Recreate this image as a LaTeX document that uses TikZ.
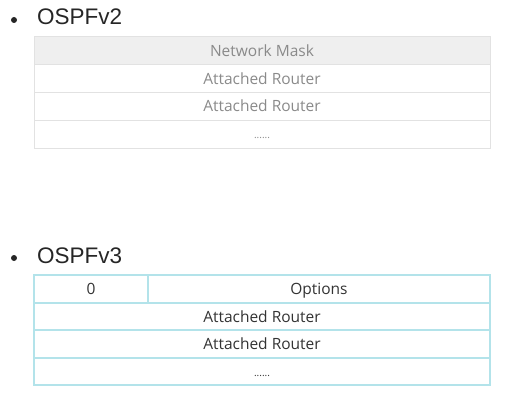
\documentclass[tikz,border=0pt]{standalone}
\usepackage{fontspec}
\setmainfont{Open Sans}
\newfontfamily\titlefont{Liberation Sans}
\definecolor{gbord}{HTML}{E2E2E2}
\definecolor{gfill}{HTML}{EFEFEF}
\definecolor{gtext}{HTML}{8A8A8A}
\definecolor{cbord}{HTML}{B3E3EA}
\definecolor{ctext}{HTML}{333333}
\begin{document}
\begin{tikzpicture}[x=1pt,y=-1pt,
  title/.style={anchor=base west,inner sep=0pt,font=\titlefont\fontsize{22.5}{26}\selectfont,text=black!85},
  bulletdot/.style={circle,fill=black!85,inner sep=0pt,minimum size=6pt},
  vtwo/.style={draw=gbord,line width=1pt},
  vthree/.style={draw=cbord,line width=1.1pt},
  gcell/.style={anchor=base,font=\fontsize{15.5}{17}\selectfont,text=gtext,inner sep=0pt},
  ccell/.style={anchor=base,font=\fontsize{15.5}{17}\selectfont,text=ctext,inner sep=0pt},
  dots/.style={anchor=base,font=\fontsize{10}{11}\selectfont,inner sep=0pt}]
\useasboundingbox (0,0) rectangle (508,417);
% OSPFv2
\node[bulletdot] (b1) at (14,20) {};
\node[title] (t1) at (37,25) {OSPFv2};
\fill[gfill] (34,37) rectangle (490,65);
\draw[vtwo] (34,37) rectangle (490,148);
\draw[vtwo] (34,65) -- (490,65);
\draw[vtwo] (34,93) -- (490,93);
\draw[vtwo] (34,120) -- (490,120);
\node[gcell] (nm) at (262,56.5) {Network Mask};
\node[gcell] (ar1) at (262,84.5) {Attached Router};
\node[gcell] (ar2) at (262,112) {Attached Router};
\node[dots,text=gtext] (d1) at (262,138) {......};
% OSPFv3
\node[bulletdot] (b2) at (14,258) {};
\node[title] (t2) at (37,263) {OSPFv3};
\draw[vthree] (34,275) rectangle (490,385);
\draw[vthree] (34,303) -- (490,303);
\draw[vthree] (34,330) -- (490,330);
\draw[vthree] (34,358) -- (490,358);
\draw[vthree] (148,275) -- (148,303);
\node[ccell] (z) at (91,294.5) {0};
\node[ccell] (op) at (319,294.5) {Options};
\node[ccell] (ar3) at (262,322) {Attached Router};
\node[ccell] (ar4) at (262,349.5) {Attached Router};
\node[dots,text=ctext] (d2) at (262,376) {......};
\end{tikzpicture}
\end{document}
